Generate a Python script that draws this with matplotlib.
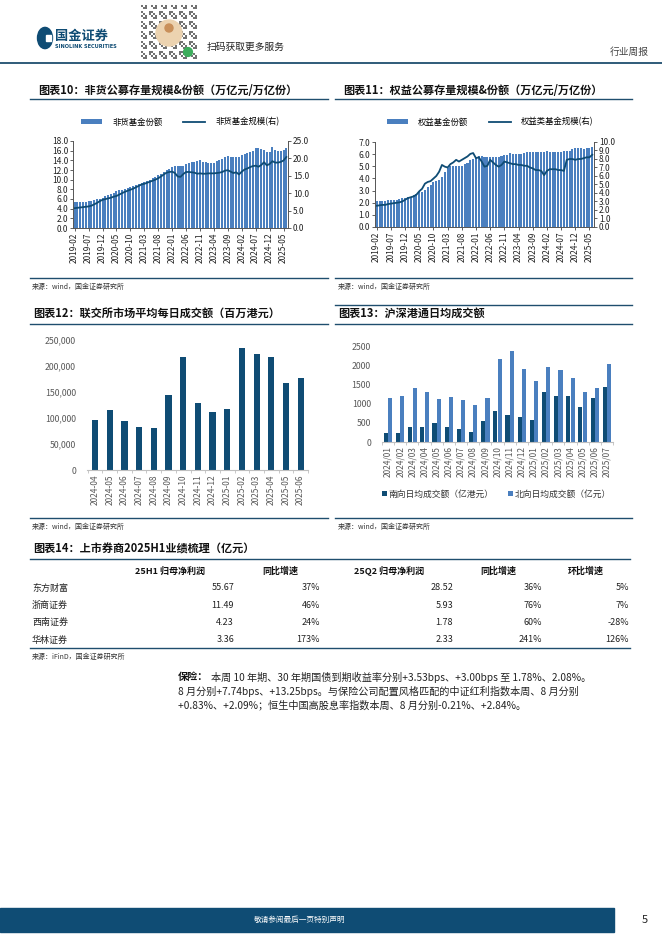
import numpy as np
import matplotlib
matplotlib.use('Agg')
import matplotlib.pyplot as plt
from matplotlib.patches import Rectangle, Circle
from matplotlib.lines import Line2D

plt.rcParams['font.family'] = ['Noto Sans CJK SC', 'DejaVu Sans']
plt.rcParams['axes.unicode_minus'] = False

W, H = 662, 936
NAVY = '#0f4c74'
BLUE = '#4a7fbf'
GRAY = '#595959'

# ---- data ----
months = []
for y in range(2019, 2026):
    for m in range(1, 13):
        if (y, m) >= (2019, 2) and (y, m) <= (2025, 6):
            months.append('%d-%02d' % (y, m))

mmf_share = [5.4, 5.4, 5.4, 5.4, 5.4, 5.5, 5.5,
             5.7, 5.9, 6.1, 6.3,
             6.6, 6.8, 7.0, 7.3, 7.6,
             7.8, 7.9, 8.1, 8.3, 8.5,
             8.7, 8.9, 9.1, 9.3, 9.6,
             9.8, 10.0, 10.3, 10.6, 10.9,
             11.2, 11.5, 11.9, 12.3, 12.6,
             12.8, 12.9, 12.8, 12.9, 13.3,
             13.5, 13.6, 13.7, 13.9, 14.0,
             13.7, 13.6, 13.5, 13.4, 13.5,
             13.8, 14.1, 14.3, 14.6, 14.8,
             14.7, 14.6, 14.6, 14.7, 15.2,
             15.3, 15.5, 15.7, 16.0, 16.6,
             16.6, 16.3, 16.2, 15.7, 15.7,
             16.7, 16.2, 16.0, 15.9, 16.1,
             16.5]
mmf_aum = [5.7, 5.8, 5.9, 6.0, 6.1, 6.2, 6.4,
           6.8, 7.2, 7.7, 8.1,
           8.3, 8.5, 8.7, 9.0, 9.2,
           9.6, 10.0, 10.4, 10.7, 11.0,
           11.3, 11.7, 12.1, 12.5, 12.7,
           13.0, 13.3, 13.6, 13.9, 14.3,
           14.8, 15.4, 15.9, 16.1, 16.2,
           15.8, 14.8, 14.7, 15.5, 16.1,
           16.1, 16.0, 15.9, 15.6, 15.7,
           15.6, 15.6, 15.7, 15.7, 15.7,
           15.8, 15.9, 16.1, 16.5, 16.6,
           16.2, 15.8, 16.0, 15.4, 16.2,
           16.8, 17.1, 17.5, 17.8, 17.9,
           17.6, 18.1, 18.9, 18.0, 18.4,
           19.2, 18.8, 18.8, 19.0, 19.4,
           20.4]
eq_share = [2.15, 2.15, 2.15, 2.15, 2.2, 2.2, 2.2,
            2.25, 2.3, 2.4, 2.4,
            2.45, 2.5, 2.6, 2.75, 2.9,
            2.9, 3.05, 3.3, 3.5, 3.7,
            3.8, 3.9, 4.1, 4.5, 4.9,
            5.0, 5.0, 5.0, 5.0, 5.0,
            5.2, 5.3, 5.5, 5.6, 5.8,
            5.85, 5.85, 5.8, 5.8, 5.8,
            5.8, 5.8, 5.8, 5.85, 5.9,
            5.9, 6.1, 6.0, 6.0, 6.0,
            6.0, 6.1, 6.2, 6.2, 6.2,
            6.2, 6.2, 6.2, 6.2, 6.3,
            6.2, 6.2, 6.2, 6.2, 6.2,
            6.3, 6.3, 6.3, 6.4, 6.5,
            6.5, 6.5, 6.4, 6.5, 6.5,
            6.6]
eq_aum = [2.5, 2.55, 2.6, 2.6, 2.7, 2.75, 2.8,
          2.85, 2.9, 3.0, 3.2,
          3.4, 3.5, 3.6, 3.8, 4.2,
          4.5, 5.1, 5.3, 5.4, 5.7,
          6.0, 6.5, 7.3, 7.1, 7.0,
          7.4, 7.6, 7.9, 7.7, 7.9,
          8.1, 8.3, 8.6, 8.7, 8.1,
          8.2, 7.7, 7.1, 7.2, 7.9,
          7.6, 7.3, 7.1, 7.3, 7.7,
          7.6, 7.5, 7.4, 7.4, 7.3,
          7.3, 7.2, 7.2, 7.0, 6.9,
          6.7, 6.7, 6.6, 6.1, 6.6,
          6.8, 6.8, 6.8, 6.7, 6.7,
          6.6, 7.9, 8.0, 8.0, 7.9,
          8.0, 8.0, 8.1, 8.2, 8.2,
          8.5]

hk_months = ['2024-04', '2024-05', '2024-06', '2024-07', '2024-08', '2024-09', '2024-10',
             '2024-11', '2024-12', '2025-01', '2025-02', '2025-03', '2025-04', '2025-05', '2025-06']
hk_turnover = [97000, 116000, 95000, 83000, 81000, 145000, 217000,
               129000, 112000, 118000, 235000, 223000, 217000, 168000, 177000]

sc_months = ['2024/01', '2024/02', '2024/03', '2024/04', '2024/05', '2024/06', '2024/07',
             '2024/08', '2024/09', '2024/10', '2024/11', '2024/12', '2025/01', '2025/02',
             '2025/03', '2025/04', '2025/05', '2025/06', '2025/07']
south = [240, 240, 380, 380, 500, 380, 345, 270, 550, 810, 710, 655, 580,
         1300, 1200, 1200, 900, 1150, 1430]
north = [1155, 1200, 1405, 1300, 1130, 1170, 1100, 965, 1155, 2170, 2360, 1895, 1585,
         1950, 1870, 1665, 1300, 1405, 2025]

tbl_header = ['25H1 归母净利润', '同比增速', '25Q2 归母净利润', '同比增速', '环比增速']
tbl_names = ['东方财富', '浙商证券', '西南证券', '华林证券']
tbl_h1 = ['55.67', '11.49', '4.23', '3.36']
tbl_h1_yoy = ['37%', '46%', '24%', '173%']
tbl_q2 = ['28.52', '5.93', '1.78', '2.33']
tbl_q2_yoy = ['36%', '76%', '60%', '241%']
tbl_q2_qoq = ['5%', '7%', '-28%', '126%']

# ---- helpers in page pixels ----
fig = plt.figure(figsize=(W / 100, H / 100), dpi=100)


def fx(x):
    return x / W


def fy(y):
    return 1 - y / H


def rect(x0, y0, x1, y1):
    return [fx(x0), fy(y1), (x1 - x0) / W, (y1 - y0) / H]


def hline(x0, x1, y, lw=1.0, color='#1f4e6e'):
    fig.add_artist(Line2D([fx(x0), fx(x1)], [fy(y), fy(y)], color=color, lw=lw))


def txt(x, y, s, **kw):
    fig.text(fx(x), fy(y), s, va='center', **kw)


# ---- page header ----
fig.add_artist(Circle((fx(45), fy(38)), 7.5 / W, transform=fig.transFigure, color=NAVY))
fig.add_artist(Rectangle((fx(46), fy(41)), 5 / W, 6 / H, transform=fig.transFigure, color='white'))
txt(55, 36, '国金证券', fontsize=9.5, fontweight='bold', color=NAVY)
txt(55, 46, 'SINOLINK SECURITIES', fontsize=3.6, fontweight='bold', color=NAVY, family='DejaVu Sans')
qr = fig.add_axes(rect(141, 5, 197, 61))
pattern = np.fromfunction(lambda i, j: ((i * 7 + j * 13 + i * j) % 5 < 2).astype(float), (28, 28))
qr.imshow(pattern, cmap='Greys', vmin=0, vmax=1.6, interpolation='nearest')
qr.add_patch(Circle((13.5, 13.5), 6.5, color='#ecd3b0'))
qr.add_patch(Circle((13.5, 11), 2.0, color='#c9905a'))
qr.add_patch(Circle((23, 23), 2.2, color='#3cae5c'))
qr.axis('off')
txt(207, 47, '扫码获取更多服务', fontsize=7, color='#222222')
txt(610, 52, '行业周报', fontsize=7, color='#444444')
hline(0, 662, 63, lw=1.3)


def title(x, y, s):
    txt(x, y, s, fontsize=8, fontweight='bold', color='#111111')


def source(x, y, s):
    txt(x, y, s, fontsize=5, color='#333333')


# ---- chart 10 & 11 ----
title(38, 90, '图表10：非货公募存量规模&份额（万亿元/万亿份）')
title(343, 90, '图表11：权益公募存量规模&份额（万亿元/万亿份）')
hline(30, 328, 99)
hline(335, 632, 99)


def dual_chart(r, share, aum, lmax, lstep, rmax, rstep, bar_label, line_label, leg_x):
    ax = fig.add_axes(r)
    x = np.arange(len(months))
    b = ax.bar(x, share, width=0.72, color=BLUE, label=bar_label)
    ax.set_xlim(-0.6, len(months) - 0.4)
    ax.set_ylim(0, lmax)
    ax.set_yticks(np.arange(0, lmax + 0.01, lstep))
    ax.set_yticklabels(['%.1f' % v for v in np.arange(0, lmax + 0.01, lstep)])
    ax.set_xticks(x[::5])
    ax.set_xticklabels(months[::5], rotation=90)
    ax2 = ax.twinx()
    l, = ax2.plot(x, aum, color=NAVY, lw=1.3, label=line_label)
    ax2.set_ylim(0, rmax)
    ax2.set_yticks(np.arange(0, rmax + 0.01, rstep))
    ax2.set_yticklabels(['%.1f' % v for v in np.arange(0, rmax + 0.01, rstep)])
    for a in (ax, ax2):
        a.spines['top'].set_visible(False)
        for s in a.spines.values():
            s.set_color('#555555')
            s.set_linewidth(0.6)
        a.tick_params(labelsize=6, length=2, width=0.5, colors='#222222', pad=1.5)
    fig.legend([b, l], [bar_label, line_label], loc='center', bbox_to_anchor=(fx(leg_x), fy(122)),
               ncol=2, frameon=False, fontsize=6, handlelength=2.6, handleheight=0.6,
               columnspacing=2.5, handletextpad=1.2)
    return ax


dual_chart(rect(73, 141, 288, 228), mmf_share, mmf_aum, 18, 2, 25, 5,
           '非货基金份额', '非货基金规模(右)', 180)
dual_chart(rect(375, 142, 594, 227), eq_share, eq_aum, 7, 1, 10, 1,
           '权益基金份额', '权益类基金规模(右)', 490)

hline(30, 328, 278)
hline(335, 632, 278)
source(32, 287, '来源：wind，国金证券研究所')
source(338, 287, '来源：wind，国金证券研究所')

# ---- chart 12 ----
title(33, 313, '图表12：联交所市场平均每日成交额（百万港元）')
title(338, 313, '图表13：沪深港通日均成交额')
hline(30, 328, 324)
hline(335, 632, 305)
hline(335, 632, 324)

ax = fig.add_axes(rect(87, 340, 308, 470))
x = np.arange(len(hk_months))
ax.bar(x, hk_turnover, width=0.42, color=NAVY)
ax.set_xlim(-0.55, len(hk_months) - 0.5)
ax.set_ylim(0, 250000)
ax.set_yticks(np.arange(0, 250001, 50000))
ax.set_yticklabels(['{:,}'.format(v) for v in range(0, 250001, 50000)])
ax.set_xticks(x)
ax.set_xticklabels(hk_months, rotation=90)
ax.set_xticks(np.arange(-0.5, len(hk_months), 1), minor=True)
for s in ['top', 'right', 'left']:
    ax.spines[s].set_visible(False)
ax.spines['bottom'].set_color('#bfbfbf')
ax.tick_params(axis='x', which='major', length=0, labelsize=6, colors=GRAY, pad=3)
ax.tick_params(axis='x', which='minor', length=2, color='#bfbfbf')
ax.tick_params(axis='y', length=0, labelsize=6.3, colors=GRAY, pad=8)

# ---- chart 13 ----
ax = fig.add_axes(rect(382, 346, 613, 442))
x = np.arange(len(sc_months))
b1 = ax.bar(x - 0.18, south, width=0.34, color=NAVY)
b2 = ax.bar(x + 0.18, north, width=0.34, color=BLUE)
ax.set_xlim(-0.5, len(sc_months) - 0.5)
ax.set_ylim(0, 2500)
ax.set_yticks(np.arange(0, 2501, 500))
ax.set_xticks(x)
ax.set_xticklabels(sc_months, rotation=90)
ax.set_xticks(np.arange(-0.5, len(sc_months), 1), minor=True)
for s in ['top', 'right', 'left']:
    ax.spines[s].set_visible(False)
ax.spines['bottom'].set_color('#bfbfbf')
ax.tick_params(axis='x', which='major', length=0, labelsize=6, colors=GRAY, pad=3)
ax.tick_params(axis='x', which='minor', length=2, color='#bfbfbf')
ax.tick_params(axis='y', length=0, labelsize=6.3, colors=GRAY, pad=8)
fig.legend([b1, b2], ['南向日均成交额（亿港元）', '北向日均成交额（亿元）'], loc='center left',
           bbox_to_anchor=(fx(374), fy(494)), ncol=2, frameon=False, fontsize=6.3,
           handlelength=0.6, handleheight=0.6, handletextpad=0.2, columnspacing=1.6,
           labelcolor='#333333')

hline(30, 328, 518)
hline(335, 632, 518)
source(32, 527, '来源：wind，国金证券研究所')
source(338, 527, '来源：wind，国金证券研究所')

# ---- table 14 ----
title(33, 549, '图表14：上市券商2025H1业绩梳理（亿元）')
hline(30, 630, 559)
head_x = [170, 280, 389, 498, 586]
for hx, h in zip(head_x, tbl_header):
    txt(hx, 571, h, fontsize=6.5, fontweight='bold', ha='center', color='#111111')
col_x = [234, 320, 453, 542, 629]
cols = [tbl_h1, tbl_h1_yoy, tbl_q2, tbl_q2_yoy, tbl_q2_qoq]
for i, name in enumerate(tbl_names):
    yy = 588 + i * 17.3
    txt(32, yy, name, fontsize=6.5, color='#222222')
    for cx, col in zip(col_x, cols):
        txt(cx, yy, col[i], fontsize=6.5, ha='right', color='#222222')
hline(30, 630, 648)
source(32, 657, '来源：iFinD，国金证券研究所')

# ---- paragraph ----
txt(178, 677, '保险：', fontsize=7.3, fontweight='bold', color='#111111')
txt(211, 677, '本周 10 年期、30 年期国债到期收益率分别+3.53bps、+3.00bps 至 1.78%、2.08%。',
    fontsize=7.3, color='#222222')
txt(178, 691, '8 月分别+7.74bps、+13.25bps。与保险公司配置风格匹配的中证红利指数本周、8 月分别',
    fontsize=7.3, color='#222222')
txt(178, 705, '+0.83%、+2.09%；恒生中国高股息率指数本周、8 月分别-0.21%、+2.84%。',
    fontsize=7.3, color='#222222')

# ---- footer ----
fig.add_artist(Rectangle((0, fy(932)), fx(614), 24 / H, transform=fig.transFigure, color=NAVY))
txt(300, 920, '敬请参阅最后一页特别声明', fontsize=5.5, color='white', ha='center')
txt(645, 920, '5', fontsize=8, color='#222222', ha='center')

fig.savefig('out.png', dpi=100)
